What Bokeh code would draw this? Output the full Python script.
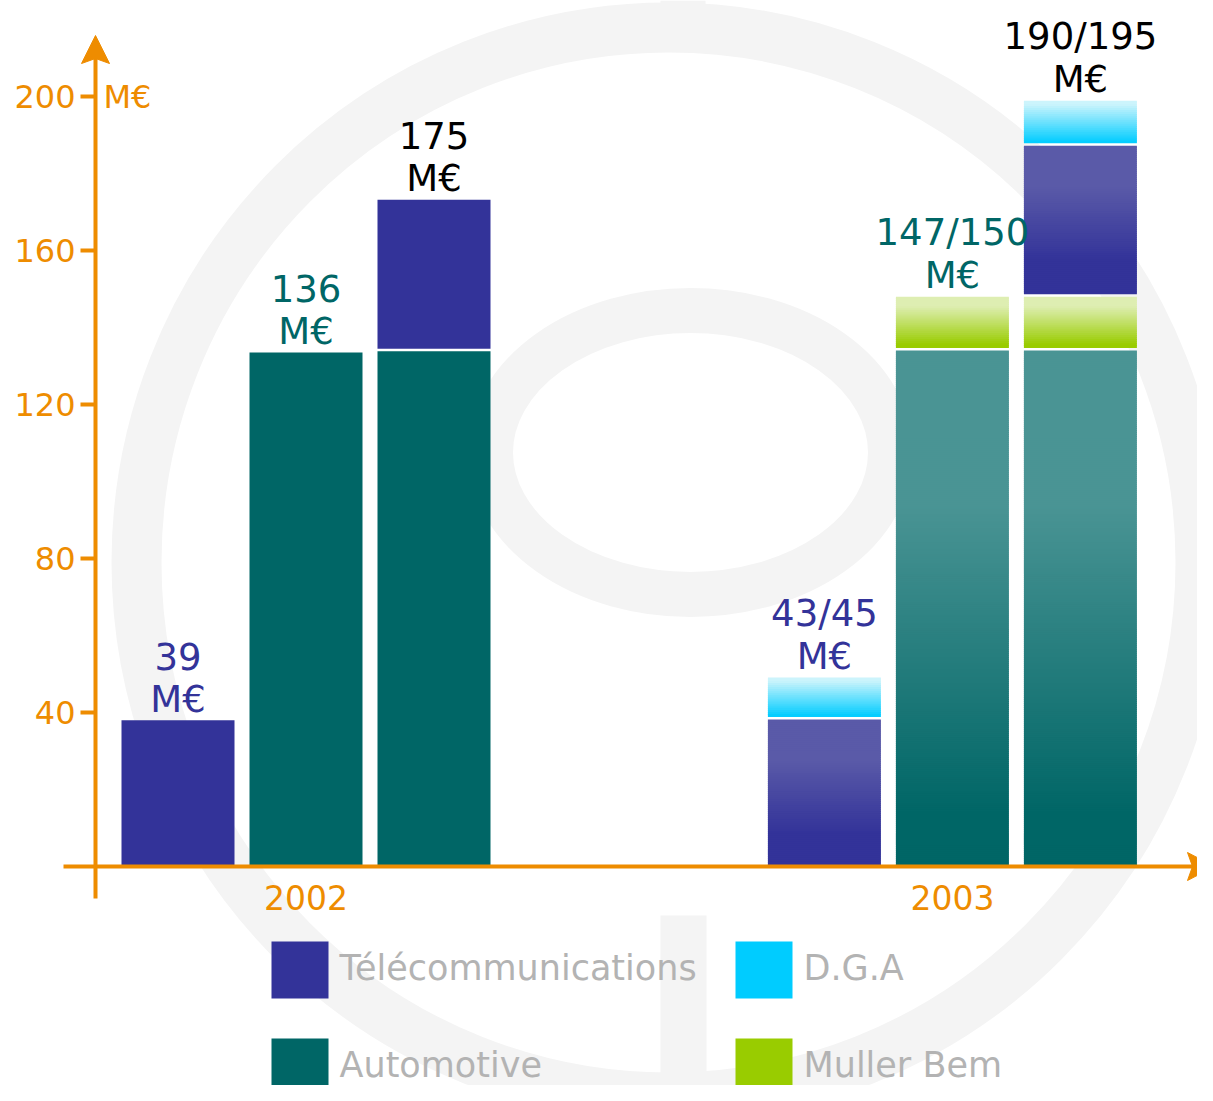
from bokeh.plotting import figure
from bokeh.models import Range1d
from bokeh.core.properties import value
from bokeh.embed import file_html
from bokeh.resources import INLINE

# ---------------- data ----------------
years = ["2002", "2003"]
series = ["Télécommunications", "Automotive", "D.G.A", "Muller Bem"]
series_colors = ["#333399", "#006666", "#00CCFF", "#99CC00"]

bar_year = [0, 0, 0, 1, 1, 1]
bar_slot = [0, 1, 2, 0, 1, 2]
automotive = [0, 133.5, 133.8, 0, 134.0, 134.0]
muller = [0, 0, 0, 0, 14.0, 14.0]
telecom = [38.0, 0, 39.4, 38.2, 0, 39.2]
dga = [0, 0, 0, 10.9, 0, 11.7]

label_values = ["39", "136", "175", "43/45", "147/150", "190/195"]
label_unit = "M€"
label_colors = ["#333399", "#006666", "#000000", "#333399", "#006666", "#000000"]

y_ticks = [40, 80, 120, 160, 200]
y_unit = "M€"

# ---------------- layout / style ----------------
ORANGE = "#EE8C00"
RING = "#F4F4F4"
FONT = value("DejaVu Sans")
PX_BASE = 866.0
PPU = 3.85          # pixels per M€
X0 = 177.5
SLOT = 128.0
GROUP = 5.05
BAR_W = 113.0 / SLOT
GAP = 2.5 / PPU
W, H = 1197, 1085


def xd(px):
    return (px - X0) / SLOT


def yd(py):
    return (PX_BASE - py) / PPU


p = figure(width=W, height=H,
           x_range=Range1d(xd(0), xd(W)), y_range=Range1d(yd(H), yd(0)),
           x_axis_type=None, y_axis_type=None,
           toolbar_location=None, output_backend="svg", min_border=0)
p.outline_line_color = None
p.background_fill_color = "white"
p.border_fill_color = "white"

# ---------------- background watermark ----------------
p.ellipse(x=[xd(668)], y=[yd(562)], width=[2 * 532 / SLOT], height=[2 * 535 / PPU],
          fill_color=None, line_color=RING, line_width=50)
p.ellipse(x=[xd(690)], y=[yd(452)], width=[2 * 200 / SLOT], height=[2 * 142 / PPU],
          fill_color=None, line_color=RING, line_width=45)
p.quad(left=[xd(660), xd(660)], right=[xd(705), xd(706)],
       bottom=[yd(30), yd(1101)], top=[yd(0), yd(915)],
       fill_color=RING, line_color=None)

# ---------------- bars ----------------
gradients = {
    "Automotive": [(0, (74, 148, 148)), (0.3, (74, 148, 148)), (0.9, (0, 102, 102)), (1, (0, 102, 102))],
    "Muller Bem": [(0, (222, 238, 178)), (0.2, (222, 238, 178)), (0.95, (153, 204, 0)), (1, (153, 204, 0))],
    "Télécommunications": [(0, (90, 90, 168)), (0.28, (90, 90, 168)), (0.78, (51, 51, 153)), (1, (51, 51, 153))],
    "D.G.A": [(0, (204, 244, 252)), (0.1, (204, 244, 252)), (1, (0, 204, 255))],
}


def grad_color(stops, f):
    for (f0, c0), (f1, c1) in zip(stops[:-1], stops[1:]):
        if f0 <= f <= f1:
            t = 0 if f1 == f0 else (f - f0) / (f1 - f0)
            c = [round(a + (b - a) * t) for a, b in zip(c0, c1)]
            return "#%02x%02x%02x" % tuple(c)
    return "#%02x%02x%02x" % stops[-1][1]


stack = [("Automotive", automotive), ("Muller Bem", muller),
         ("Télécommunications", telecom), ("D.G.A", dga)]
color_of = dict(zip(series, series_colors))
OVER = 0.8 / PPU

L, R, B, T, C = [], [], [], [], []
centers, totals = [], []
for i in range(len(bar_year)):
    cx = bar_year[i] * GROUP + bar_slot[i]
    bottom = 0.0
    first = True
    for name, vals in stack:
        v = vals[i]
        if v <= 0:
            continue
        b = bottom + (0 if first else GAP)
        t = bottom + v
        if bar_year[i] == 0:
            L.append(cx - BAR_W / 2); R.append(cx + BAR_W / 2)
            B.append(b); T.append(t); C.append(color_of[name])
        else:
            n = max(6, int((t - b) * PPU / 2))
            h = (t - b) / n
            for k in range(n):
                st = t - k * h
                sb = st - h
                f = (k + 0.5) / n
                L.append(cx - BAR_W / 2); R.append(cx + BAR_W / 2)
                B.append(sb); T.append(min(t, st + OVER))
                C.append(grad_color(gradients[name], f))
        bottom = t
        first = False
    centers.append(cx)
    totals.append(bottom)

p.quad(left=L, right=R, bottom=B, top=T, fill_color=C, line_color=None)

# value labels
p.text(x=centers, y=[t + 64 / PPU for t in totals], text=label_values,
       text_color=label_colors, text_font=FONT, text_font_size="37px",
       text_align="center", text_baseline="middle")
p.text(x=centers, y=[t + 21 / PPU for t in totals], text=[label_unit] * len(totals),
       text_color=label_colors, text_font=FONT, text_font_size="37px",
       text_align="center", text_baseline="middle")

# ---------------- axes ----------------
p.segment(x0=[xd(95)], y0=[yd(898)], x1=[xd(95)], y1=[yd(55)], line_color=ORANGE, line_width=4)
p.segment(x0=[xd(63)], y0=[0], x1=[xd(1195)], y1=[0], line_color=ORANGE, line_width=4)
# arrow heads
p.patch(x=[xd(95), xd(109), xd(95), xd(81)], y=[yd(35), yd(63), yd(58), yd(63)],
        fill_color=ORANGE, line_color=ORANGE, line_width=1)
p.patch(x=[xd(1214), xd(1187), xd(1192), xd(1187)], y=[yd(866), yd(880), yd(866), yd(852)],
        fill_color=ORANGE, line_color=ORANGE, line_width=1)

# ticks
p.segment(x0=[xd(80)] * len(y_ticks), x1=[xd(95)] * len(y_ticks), y0=y_ticks, y1=y_ticks,
          line_color=ORANGE, line_width=4)
p.text(x=[xd(75)] * len(y_ticks), y=y_ticks, text=[str(v) for v in y_ticks],
       text_color=ORANGE, text_font=FONT, text_font_size="32px",
       text_align="right", text_baseline="middle")
p.text(x=[xd(103)], y=[y_ticks[-1]], text=[y_unit], text_color=ORANGE, text_font=FONT,
       text_font_size="32px", text_align="left", text_baseline="middle")

# year labels
p.text(x=[g * GROUP + 1 for g in range(len(years))], y=[yd(897)] * len(years), text=years,
       text_color=ORANGE, text_font=FONT, text_font_size="33px",
       text_align="center", text_baseline="middle")

# ---------------- legend ----------------
col_px = [271, 735]
row_px = [941, 1038]
SQ = 57
lx, ly, ll, lr, lb, lt = [], [], [], [], [], []
for k, name in enumerate(series):
    c, r = k // 2, k % 2
    ll.append(xd(col_px[c])); lr.append(xd(col_px[c] + SQ))
    lt.append(yd(row_px[r])); lb.append(yd(row_px[r] + SQ))
    lx.append(xd(col_px[c] + SQ + 11)); ly.append(yd(row_px[r] + 26))
p.quad(left=ll, right=lr, bottom=lb, top=lt, fill_color=series_colors, line_color=None)
p.text(x=lx, y=ly, text=series, text_color="#B3B3B3", text_font=FONT,
       text_font_size="35px", text_align="left", text_baseline="middle")

open("out.html", "w").write(file_html(p, INLINE))
